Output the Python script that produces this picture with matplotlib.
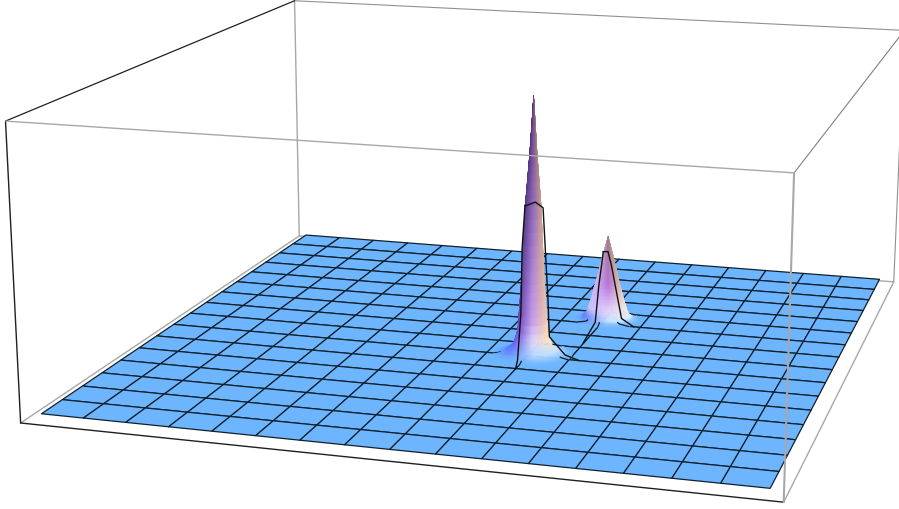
import numpy as np
import matplotlib
matplotlib.use('Agg')
import matplotlib.pyplot as plt

# ---------- data (box coordinates 0..1) ----------
cells = 16
range_low, range_high = 0.02, 0.98
floor_level = 0.02

peak1_center = (0.5635, 0.452)
peak1_radius = [0.000, 0.0052, 0.011, 0.016, 0.021, 0.027, 0.038, 0.048, 0.056]
peak1_height = [0.945, 0.740, 0.560, 0.285, 0.108, 0.055, 0.034, 0.024, 0.020]
peak2_center = (0.623, 0.648)
peak2_radius = [0.000, 0.0075, 0.016, 0.024, 0.030, 0.038, 0.048]
peak2_height = [0.333, 0.264, 0.173, 0.096, 0.047, 0.026, 0.020]

# mesh lines as they climb the front of each peak
peak1_column_x = 0.56
peak1_column_y = [0.378, 0.388, 0.404, 0.409, 0.423]
peak1_column_z = [0.020, 0.045, 0.202, 0.431, 0.576]
peak1_row_y = 0.44
peak1_row_x = [0.635, 0.6143, 0.6015, 0.5912, 0.5888, 0.5846, 0.5811, 0.5700, 0.5554]
peak1_row_z = [0.020, 0.036, 0.070, 0.098, 0.238, 0.414, 0.560, 0.578, 0.562]
peak2_column_x = 0.62
peak2_column_y = [0.519, 0.588, 0.607, 0.631]
peak2_column_z = [0.023, 0.050, 0.176, 0.283]
peak2_row_y = 0.62
peak2_row_x = [0.670, 0.6515, 0.6434, 0.6353, 0.6300, 0.6224]
peak2_row_z = [0.020, 0.048, 0.147, 0.246, 0.297, 0.295]

# ---------- styling ----------
FLOOR = (0.43, 0.71, 1.0)
levels = [0.0, 0.02, 0.06, 0.15, 0.50, 1.0]
peak1_colors = [
    [FLOOR, FLOOR, FLOOR],
    [(.36, .50, 1.0), (.72, .86, 1.0), (.80, .90, 1.0)],
    [(.42, .36, .92), (.88, .86, .98), (1.0, .90, .75)],
    [(.42, .28, .72), (.78, .62, .92), (.95, .78, .66)],
    [(.36, .24, .55), (.62, .45, .78), (.82, .66, .58)],
    [(.30, .18, .42), (.42, .28, .55), (.60, .45, .42)],
]
levels2 = [0.0, 0.05, 0.15, 0.45, 1.0]
peak2_colors = [
    [FLOOR, FLOOR, FLOOR],
    [(.38, .50, .98), (.80, .90, 1.0), (.88, .94, 1.0)],
    [(.78, .76, .98), (.90, .84, 1.0), (.95, .92, .88)],
    [(.82, .72, .95), (.72, .45, .88), (.85, .75, .65)],
    [(.72, .58, .62), (.62, .48, .55), (.72, .58, .50)],
]
ELEV, AZIM, ROLL, FOCAL = 14.035, -73.565, -0.053, 0.4396
ASPECT = (1, 1.0038, 0.4007)
SCALE, TX, TY = 5453.3, 499.12, 298.56
W, H = 899, 510

fig = plt.figure(figsize=(W / 100, H / 100), dpi=100)
ax = fig.add_subplot(projection='3d', computed_zorder=False)
ax.set_xlim(0, 1, view_margin=0)
ax.set_ylim(0, 1, view_margin=0)
ax.set_zlim(0, 1, view_margin=0)
ax.view_init(elev=ELEV, azim=AZIM, roll=ROLL)
ax.set_proj_type('persp', focal_length=FOCAL)
ax.set_box_aspect(ASPECT)
ax.set_axis_off()
(x0, y0), (x1, y1) = ax.transLimits.inverted().transform([(0, 0), (1, 1)])
ax.set_position([(TX + SCALE * x0) / W, (TY + SCALE * y0) / H,
                 SCALE * (x1 - x0) / W, SCALE * (y1 - y0) / H])

# ---------- bounding box ----------
GRAY = '#a8a8a8'
BLACK = '#202020'
def edge(a, b, color, lw, z):
    ax.plot(*zip(a, b), color=color, lw=lw, zorder=z, solid_capstyle='round')

edge((0, 1, 0), (1, 1, 0), GRAY, 1.0, 0)
edge((0, 1, 0), (0, 1, 1), GRAY, 1.0, 0)
edge((0, 1, 1), (1, 1, 1), '#909090', 0.8, 0)
edge((1, 1, 0), (1, 1, 1), '#909090', 0.8, 0)
edge((0, 0, 0), (0, 1, 0), GRAY, 1.0, 0)
edge((1, 0, 0), (1, 1, 0), GRAY, 1.0, 0)
edge((0, 0, 0), (1, 0, 0), BLACK, 1.0, 0)
edge((0, 0, 0), (0, 0, 1), BLACK, 1.0, 0)
edge((0, 0, 1), (0, 1, 1), BLACK, 0.9, 0)
edge((1, 0, 1), (1, 1, 1), '#808080', 0.8, 50)
edge((0, 0, 1), (1, 0, 1), GRAY, 1.0, 50)
edge((1, 0, 0), (1, 0, 1), GRAY, 1.5, 50)

# ---------- floor ----------
mesh = np.linspace(range_low, range_high, cells + 1)
gx, gy = np.meshgrid(mesh, mesh)
gz = np.full_like(gx, floor_level)
ax.plot_surface(gx, gy, gz, rstride=1, cstride=1, color=FLOOR, shade=False,
                edgecolor='#10202c', linewidth=0.9, zorder=1)

# ---------- peaks ----------
view_angle = np.radians(AZIM)
view_dir = np.array([np.cos(view_angle), np.sin(view_angle)])

def shade(side, frac, lev, table):
    table = np.asarray(table)
    out = np.zeros(side.shape + (4,))
    out[..., 3] = 1
    for ch in range(3):
        by_side = np.array([np.interp(frac, lev, table[:, k, ch]) for k in range(3)])
        out[..., ch] = np.where(side < 0,
                                by_side[0] + (by_side[1] - by_side[0]) * (side + 1),
                                by_side[1] + (by_side[2] - by_side[1]) * side)
    return out

def half(center, radius, height, lev, table, start, z):
    idx = np.arange(len(radius))
    fine = np.linspace(0, len(radius) - 1, 6 * (len(radius) - 1) + 1)
    r = np.interp(fine, idx, radius)
    h = np.interp(fine, idx, height)
    th = np.linspace(start, start + np.pi, 37)
    T, R = np.meshgrid(th, r)
    Z = np.tile(h[:, None], (1, th.size))
    X = center[0] + R * np.cos(T)
    Y = center[1] + R * np.sin(T)
    tm = 0.5 * (th[:-1] + th[1:])
    hm = 0.5 * (h[:-1] + h[1:])
    Tm, Hm = np.meshgrid(tm, hm)
    side = np.sin(Tm - view_angle)
    frac = (Hm - floor_level) / (max(height) - floor_level)
    ax.plot_surface(X, Y, Z, rstride=1, cstride=1, facecolors=shade(side, frac, lev, table),
                    shade=False, linewidth=0.3, zorder=z)

def rim_lines(center, radius, height, inner, z_far, z_near):
    """Floor mesh lines where they run over the low flare of a peak."""
    R = radius[-1]
    for k in mesh:
        for axis in (0, 1):
            off = k - center[axis]
            if abs(off) >= R:
                continue
            run = np.sqrt(R ** 2 - off ** 2)
            s = np.linspace(-run, run, 121)
            dx = np.full_like(s, off) if axis == 0 else s
            dy = s if axis == 0 else np.full_like(s, off)
            rr = np.hypot(dx, dy)
            zz = np.interp(rr, radius, height)
            near = dx * view_dir[0] + dy * view_dir[1] >= 0
            for mask, zo in ((near, z_near), (~near, z_far)):
                pz = zz.copy()
                pz[~mask | (rr < inner)] = np.nan
                ax.plot(center[0] + dx, center[1] + dy, pz, color='#10202c', lw=0.9, zorder=zo)

def peak(center, radius, height, lev, table, inner, z):
    half(center, radius, height, lev, table, view_angle + np.pi / 2, z)
    half(center, radius, height, lev, table, view_angle - np.pi / 2, z + 2)
    rim_lines(center, radius, height, inner, z + 1, z + 3)

def climb(col_x, col_y, col_z, row_y, row_x, row_z, z):
    ax.plot(np.full(len(col_y), col_x), col_y, col_z, color='#111111', lw=1.0, zorder=z)
    ax.plot(row_x, np.full(len(row_x), row_y), row_z, color='#111111', lw=1.0, zorder=z)

peak(peak2_center, peak2_radius, peak2_height, levels2, peak2_colors, 0.036, 10)
climb(peak2_column_x, peak2_column_y, peak2_column_z,
      peak2_row_y, peak2_row_x, peak2_row_z, 14)
peak(peak1_center, peak1_radius, peak1_height, levels, peak1_colors, 0.045, 20)
climb(peak1_column_x, peak1_column_y, peak1_column_z,
      peak1_row_y, peak1_row_x, peak1_row_z, 24)

fig.savefig('out.png', dpi=100, facecolor='white')
